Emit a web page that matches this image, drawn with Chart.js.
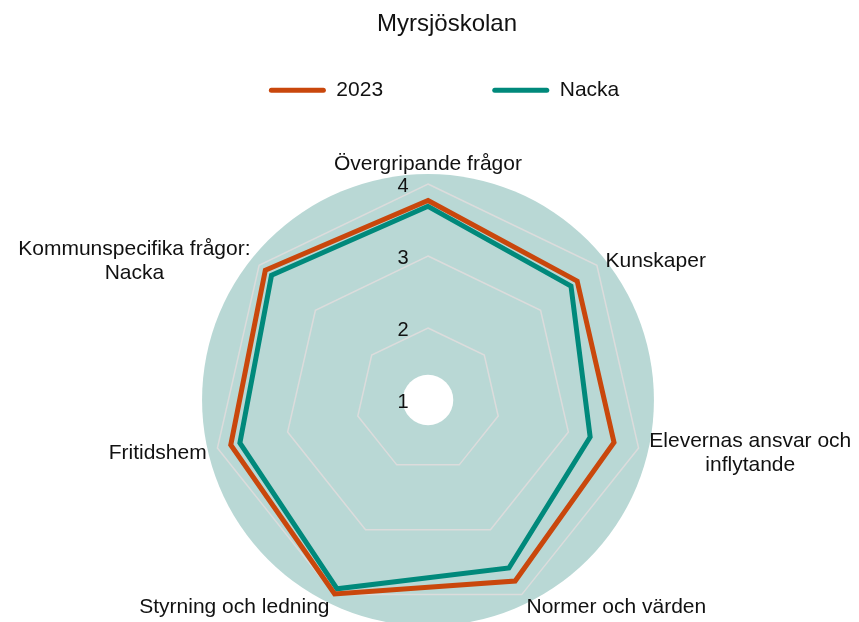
<!DOCTYPE html>
<html>
<head>
<meta charset="utf-8">
<title>Myrsjöskolan</title>
<script src="https://cdn.jsdelivr.net/npm/chart.js@4.4.1/dist/chart.umd.min.js"></script>
<style>
  html, body { margin: 0; padding: 0; background: #fff; }
</style>
</head>
<body>
<canvas id="chart" width="859" height="622"></canvas>
<script>
// chart data
const TITLE = 'Myrsjöskolan';
const CATEGORIES = [
  ['Övergripande frågor'],
  ['Kunskaper'],
  ['Elevernas ansvar och', 'inflytande'],
  ['Normer och värden'],
  ['Styrning och ledning'],
  ['Fritidshem'],
  ['Kommunspecifika frågor:', 'Nacka'],
];
const SERIES_NAMES = ['2023', 'Nacka'];
const VALUES_2023 = [3.77, 3.65, 3.65, 3.79, 3.99, 3.81, 3.89];
const VALUES_NACKA = [3.69, 3.54, 3.31, 3.59, 3.91, 3.68, 3.78];
const TICK_VALUES = [1, 2, 3, 4];

const FONT = '"Liberation Sans", Arial, sans-serif';
const TEXT_COLOR = '#111111';
const COLORS = ['#c9470c', '#00897b'];

// teal disc behind the web, Excel-style axis labels and tick numbers
const radarDecor = {
  id: 'radarDecor',
  beforeDraw(chart) {
    const s = chart.scales.r;
    const ctx = chart.ctx;
    ctx.save();
    ctx.fillStyle = '#b9d8d5';
    ctx.beginPath();
    ctx.arc(s.xCenter, s.yCenter, s.drawingArea * 1.046, 0, Math.PI * 2);
    ctx.fill();
    ctx.fillStyle = '#ffffff';
    ctx.beginPath();
    ctx.arc(s.xCenter, s.yCenter, s.drawingArea * 0.117, 0, Math.PI * 2);
    ctx.fill();
    ctx.restore();
  },
  afterDraw(chart) {
    const s = chart.scales.r;
    const ctx = chart.ctx;
    ctx.save();
    ctx.fillStyle = TEXT_COLOR;

    // tick numbers, a little left of the vertical axis
    ctx.font = '20px ' + FONT;
    ctx.textAlign = 'center';
    ctx.textBaseline = 'middle';
    TICK_VALUES.forEach(v => {
      ctx.fillText(String(v), s.xCenter - 25, s.yCenter - s.getDistanceFromCenterForValue(v) + 2);
    });

    // category labels, lines centred inside their block
    ctx.font = '21px ' + FONT;
    const lineH = 24;
    CATEGORIES.forEach((lines, i) => {
      const p = s.getPointPosition(i, s.drawingArea + 11);
      const dx = p.x - s.xCenter;
      const dy = p.y - s.yCenter;
      const blockW = Math.max(...lines.map(t => ctx.measureText(t).width));
      const blockH = lines.length * lineH;
      let left, top;
      if (Math.abs(dx) < 1) left = p.x - blockW / 2;
      else if (dx > 0) left = p.x;
      else left = p.x - blockW;
      if (Math.abs(dx) < 1 && dy < 0) top = p.y - blockH;
      else if (Math.abs(dx) < 1 && dy > 0) top = p.y;
      else top = p.y - blockH / 2;
      top += 3;
      lines.forEach((t, k) => {
        ctx.fillText(t, left + blockW / 2, top + lineH * (k + 0.5));
      });
    });
    ctx.restore();
  }
};

new Chart(document.getElementById('chart'), {
  type: 'radar',
  data: {
    labels: CATEGORIES,
    datasets: [
      {
        label: SERIES_NAMES[0],
        data: VALUES_2023,
        borderColor: COLORS[0],
        backgroundColor: COLORS[0],
        borderWidth: 5,
        pointRadius: 0,
        fill: false,
        borderJoinStyle: 'miter',
      },
      {
        label: SERIES_NAMES[1],
        data: VALUES_NACKA,
        borderColor: COLORS[1],
        backgroundColor: COLORS[1],
        borderWidth: 5,
        pointRadius: 0,
        fill: false,
        borderJoinStyle: 'miter',
      },
    ],
  },
  options: {
    responsive: false,
    animation: false,
    layout: { padding: { left: 231, right: 196, top: 0, bottom: 0 } },
    plugins: {
      title: {
        display: true,
        text: TITLE,
        color: TEXT_COLOR,
        font: { family: FONT, size: 24, weight: 'normal' },
        padding: { top: 10, bottom: 31 },
      },
      legend: {
        position: 'top',
        labels: {
          color: TEXT_COLOR,
          font: { family: FONT, size: 21 },
          boxWidth: 57,
          boxHeight: 5,
          padding: 10,
          useBorderRadius: true,
          borderRadius: 2.5,
          // trailing spaces keep the wide gap between the two entries
          generateLabels: chart => chart.data.datasets.map((ds, i) => ({
            text: ds.label + (i === 0 ? ' '.repeat(17) : ' '),
            fillStyle: ds.borderColor,
            strokeStyle: ds.borderColor,
            lineWidth: 0,
            borderRadius: 2.5,
            fontColor: TEXT_COLOR,
            hidden: false,
            datasetIndex: i,
          })),
        },
      },
      tooltip: { enabled: false },
    },
    scales: {
      r: {
        min: 1,
        max: 4,
        ticks: { display: false, stepSize: 1 },
        grid: { color: '#dcdcdc', lineWidth: 1.5 },
        angleLines: { display: false },
        pointLabels: { display: false },
        afterFit(scale) {
          // web sits a bit left of the title and low in the frame
          scale.xCenter -= 19;
          scale.yCenter = scale.bottom - 222;
        },
      },
    },
  },
  plugins: [radarDecor],
});
</script>
</body>
</html>
